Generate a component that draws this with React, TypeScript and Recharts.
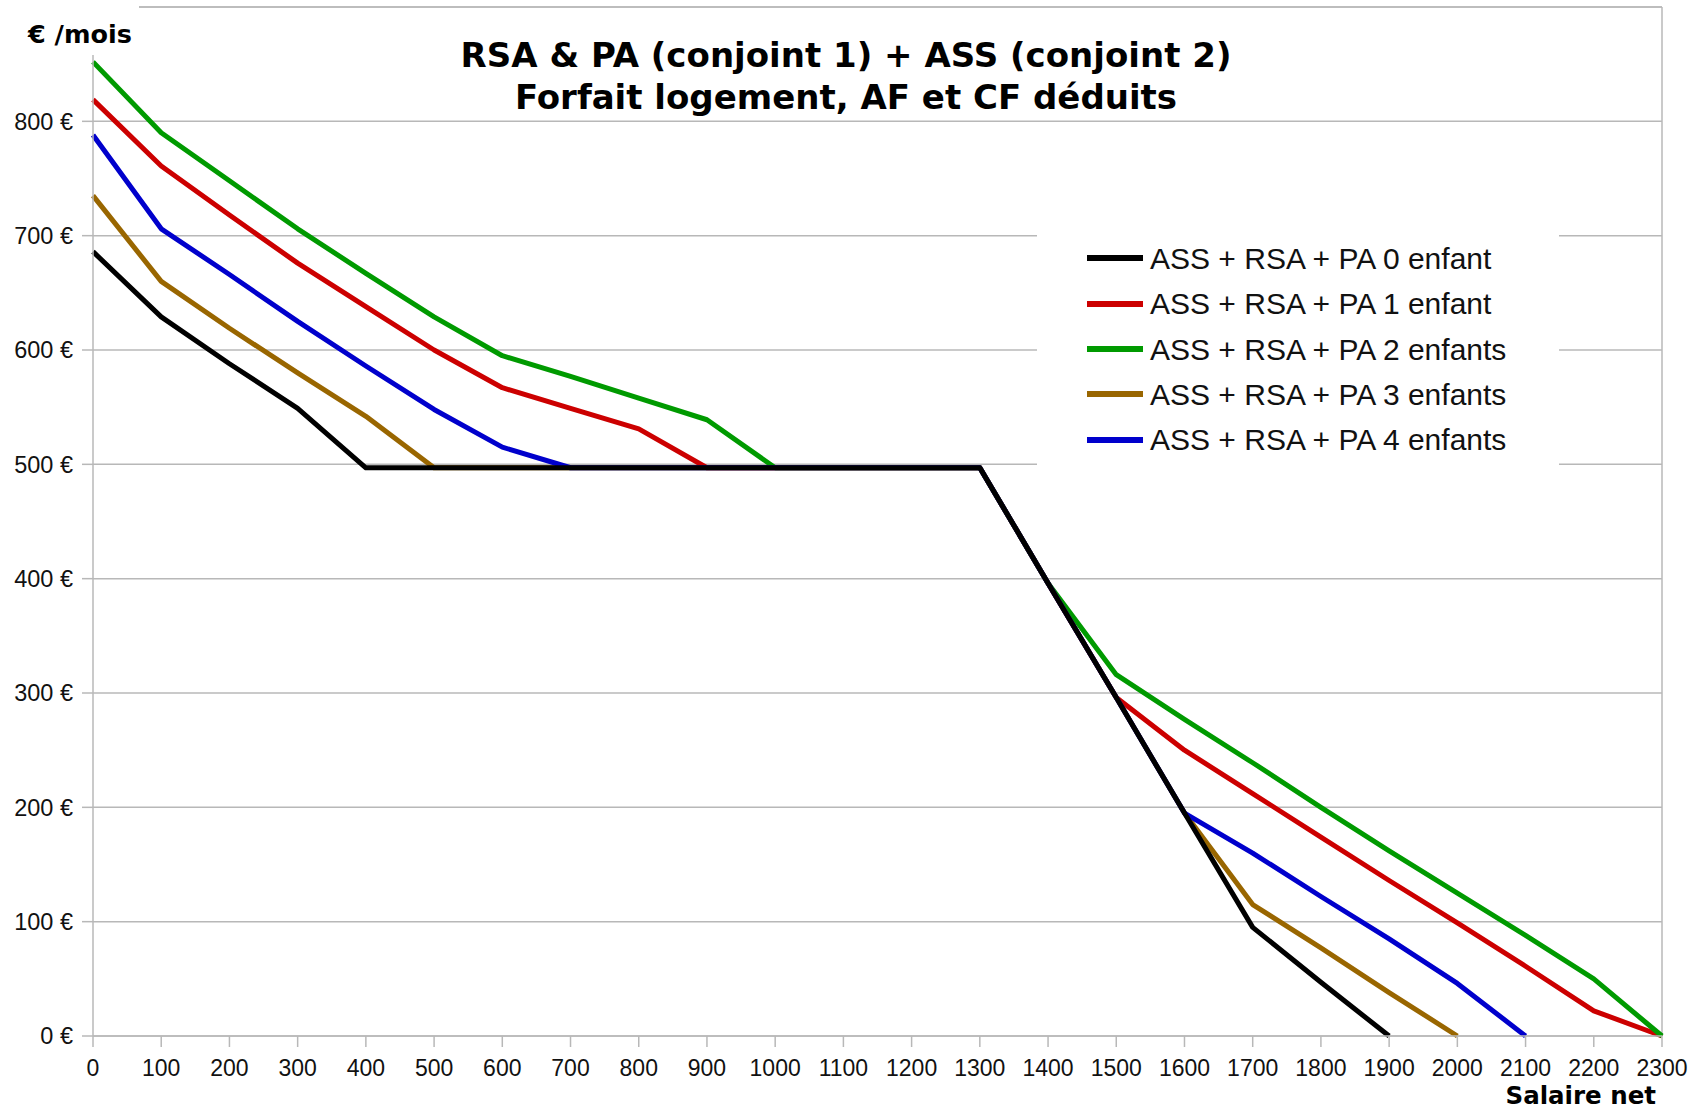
import React from 'react';
import { LineChart, Line, XAxis, YAxis, CartesianGrid, ReferenceLine, Legend } from 'recharts';

const salaire = [0, 100, 200, 300, 400, 500, 600, 700, 800, 900, 1000, 1100, 1200, 1300, 1400, 1500, 1600, 1700, 1800, 1900, 2000, 2100, 2200, 2300];

const enfant0 = [686, 629, 588, 549, 497, 497, 497, 497, 497, 497, 497, 497, 497, 497, 396, 296, 195, 95, 47, 0, null, null, null, null];
const enfant1 = [819, 761, 718, 676, 638, 600, 567, 549, 531, 497, 497, 497, 497, 497, 396, 296, 250, 212, 174, 136, 99, 61, 22, 0];
const enfant2 = [852, 790, 748, 706, 667, 629, 595, 577, 558, 539, 497, 497, 497, 497, 396, 316, 277, 239, 200, 162, 125, 88, 50, 0];
const enfant3 = [735, 660, 619, 580, 542, 497, 497, 497, 497, 497, 497, 497, 497, 497, 396, 296, 195, 115, 77, 38, 0, null, null, null];
const enfant4 = [788, 706, 666, 625, 586, 548, 515, 497, 497, 497, 497, 497, 497, 497, 396, 296, 195, 160, 122, 85, 46, 0, null, null];

const seriesNames = [
  'ASS + RSA + PA 0 enfant',
  'ASS + RSA + PA 1 enfant',
  'ASS + RSA + PA 2 enfants',
  'ASS + RSA + PA 3 enfants',
  'ASS + RSA + PA 4 enfants',
];
const seriesKeys = ['e0', 'e1', 'e2', 'e3', 'e4'];
const seriesColors = ['#000000', '#cc0000', '#009a00', '#996600', '#0000cc'];

const xTicks = salaire;
const yTicks = [0, 100, 200, 300, 400, 500, 600, 700, 800];

const titleLines = ['RSA & PA (conjoint 1) + ASS (conjoint 2)', 'Forfait logement, AF et CF déduits'];
const yLabel = '€ /mois';
const xLabel = 'Salaire net';

const data = salaire.map((s, i) => ({
  x: s,
  e0: enfant0[i],
  e1: enfant1[i],
  e2: enfant2[i],
  e3: enfant3[i],
  e4: enfant4[i],
}));

const GRID = '#b8b8b8';
const REG = '"Liberation Sans", Arial, sans-serif';
const BOLD = '"DejaVu Sans", sans-serif';

const renderLegend = () => (
  <div
    style={{
      width: 522,
      height: 250,
      background: '#fff',
      boxSizing: 'border-box',
      paddingTop: 10.6,
      paddingLeft: 50,
    }}
  >
    {seriesNames.map((n, i) => (
      <div key={n} style={{ display: 'flex', alignItems: 'center', height: 45.4 }}>
        <div style={{ width: 56, height: 6, background: seriesColors[i], marginRight: 7 }} />
        <span style={{ fontFamily: REG, fontSize: 30, color: '#111', lineHeight: '45px', whiteSpace: 'nowrap' }}>{n}</span>
      </div>
    ))}
  </div>
);

const drawOrder = [1, 2, 3, 4, 0];

export default function App() {
  return (
    <div style={{ position: 'absolute', left: 0, top: 0, width: 1699, height: 1111, background: '#fff', overflow: 'hidden' }}>
      <LineChart width={1699} height={1111} data={data} margin={{ top: 7, right: 37, bottom: 0, left: 0 }}>
        <CartesianGrid vertical={false} stroke={GRID} strokeWidth={1.5} />
        <XAxis
          dataKey="x"
          type="number"
          domain={[0, 2300]}
          ticks={xTicks}
          interval={0}
          height={75}
          tickSize={11}
          tickMargin={13}
          stroke={GRID}
          strokeWidth={1.5}
          tick={{ fill: '#111', fontSize: 23, fontFamily: REG }}
        />
        <YAxis
          type="number"
          domain={[0, 900]}
          ticks={yTicks}
          width={93}
          tickSize={11}
          tickMargin={9}
          stroke={GRID}
          strokeWidth={1.5}
          tickFormatter={(v) => `${v} €`}
          tick={{ fill: '#111', fontSize: 23.5, fontFamily: REG }}
        />
        <ReferenceLine y={900} stroke={GRID} strokeWidth={1.5} ifOverflow="extendDomain" />
        <ReferenceLine x={2300} stroke={GRID} strokeWidth={1.5} />
        <Legend
          layout="vertical"
          align="center"
          verticalAlign="middle"
          content={renderLegend}
          wrapperStyle={{ left: 1037, top: 225, width: 522, height: 250 }}
        />
        {drawOrder.map((i) => (
          <Line
            key={seriesKeys[i]}
            type="linear"
            dataKey={seriesKeys[i]}
            name={seriesNames[i]}
            stroke={seriesColors[i]}
            strokeWidth={5}
            strokeLinejoin="round"
            dot={false}
            activeDot={false}
            isAnimationActive={false}
          />
        ))}
      </LineChart>
      <svg width={1699} height={1111} style={{ position: 'absolute', left: 0, top: 0, pointerEvents: 'none' }}>
        <rect x={0} y={0} width={139} height={55} fill="#fff" />
        <text x={28} y={43} fontFamily={BOLD} fontWeight="bold" fontSize={25.5} fill="#000">{yLabel}</text>
        <text x={846} y={66.7} textAnchor="middle" fontFamily={BOLD} fontWeight="bold" fontSize={34} fill="#000">{titleLines[0]}</text>
        <text x={846} y={109.3} textAnchor="middle" fontFamily={BOLD} fontWeight="bold" fontSize={34} fill="#000">{titleLines[1]}</text>
        <text x={1656} y={1104} textAnchor="end" fontFamily={BOLD} fontWeight="bold" fontSize={24.5} fill="#000">{xLabel}</text>
      </svg>
    </div>
  );
}
